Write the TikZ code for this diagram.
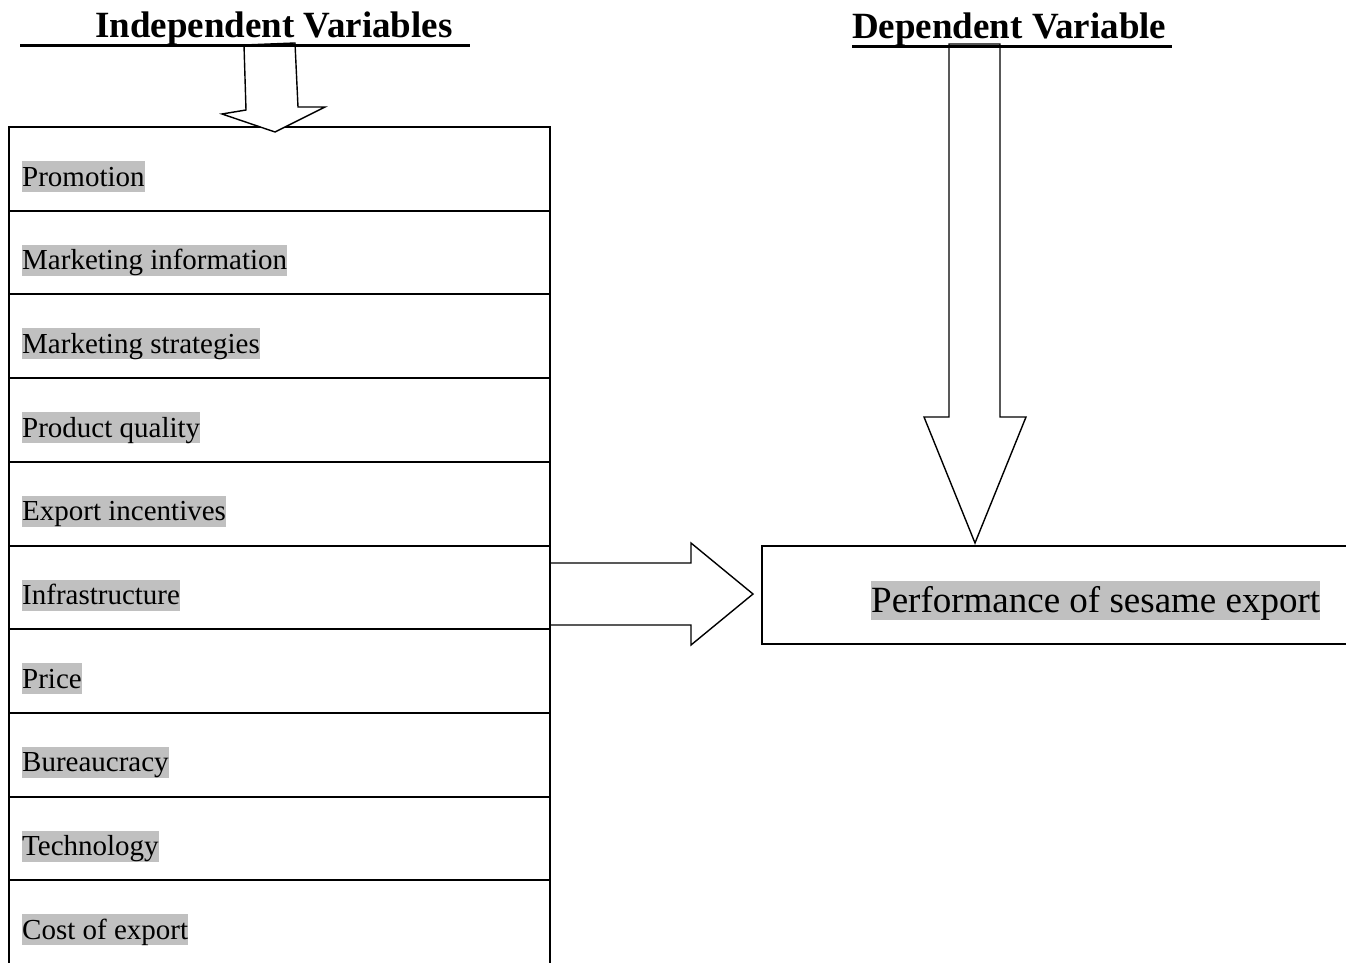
\documentclass[tikz,border=0pt]{standalone}
\usepackage{fontspec}
\setmainfont{Liberation Serif}
\definecolor{hl}{HTML}{C0C0C0}
\begin{document}
\begin{tikzpicture}[x=1pt,y=-1pt,
  rowbox/.style={draw,line width=2pt,minimum width=541pt,minimum height=83.7pt,inner sep=0pt,anchor=north west},
  lbl/.style={fill=hl,inner sep=0pt,anchor=base west,font=\fontsize{29}{34}\selectfont,text height=25pt,text depth=6pt},
  biglbl/.style={fill=hl,inner sep=0pt,anchor=base west,font=\fontsize{37}{44}\selectfont,text height=31pt,text depth=8pt},
  head/.style={font=\fontsize{37}{44}\selectfont\bfseries,anchor=base west,inner sep=0pt},
  uline/.style={line width=3pt},
  blk/.style={draw,line width=1.4pt,fill=white,line join=miter}]
\useasboundingbox (0,0) rectangle (1346,963);
\foreach \i/\t in {0/Promotion,1/Marketing information,2/Marketing strategies,3/Product quality,4/Export incentives,5/Infrastructure,6/Price,7/Bureaucracy,8/Technology,9/Cost of export}{
  \node[rowbox] (r\i) at (8,{126+\i*83.7}) {};
  \node[lbl] (t\i) at (22,{186+\i*83.7}) {\t};
}
\node[draw,line width=2pt,minimum width=600pt,minimum height=98pt,inner sep=0pt,anchor=north west] (dep) at (761,545) {};
\node[biglbl] (perf) at (871,612) {Performance of sesame export};
% block arrows
\draw[blk] (244,45) -- (295,43) -- (298,107) -- (325,107) -- (275,132) -- (222,114) -- (246,110) -- cycle;
\draw[blk] (949,44) -- (1000,44) -- (1000,417) -- (1026,417) -- (975,543) -- (924,417) -- (949,417) -- cycle;
\fill[white] (551,563) rectangle (691,625);
\draw[line width=1.4pt,line join=miter] (r5.east |- 0,563) -- (691,563) -- (691,543) -- (753,594) -- (691,645) -- (691,625) -- (r5.east |- 0,625);
% headings
\node[head] (hi) at (95,38) {Independent Variables};
\node[head] (hd) at (852,39) {Dependent Variable};
\draw[uline] (20,46) -- (470,46);
\draw[uline] (852,47) -- (1172,47);
\end{tikzpicture}
\end{document}
